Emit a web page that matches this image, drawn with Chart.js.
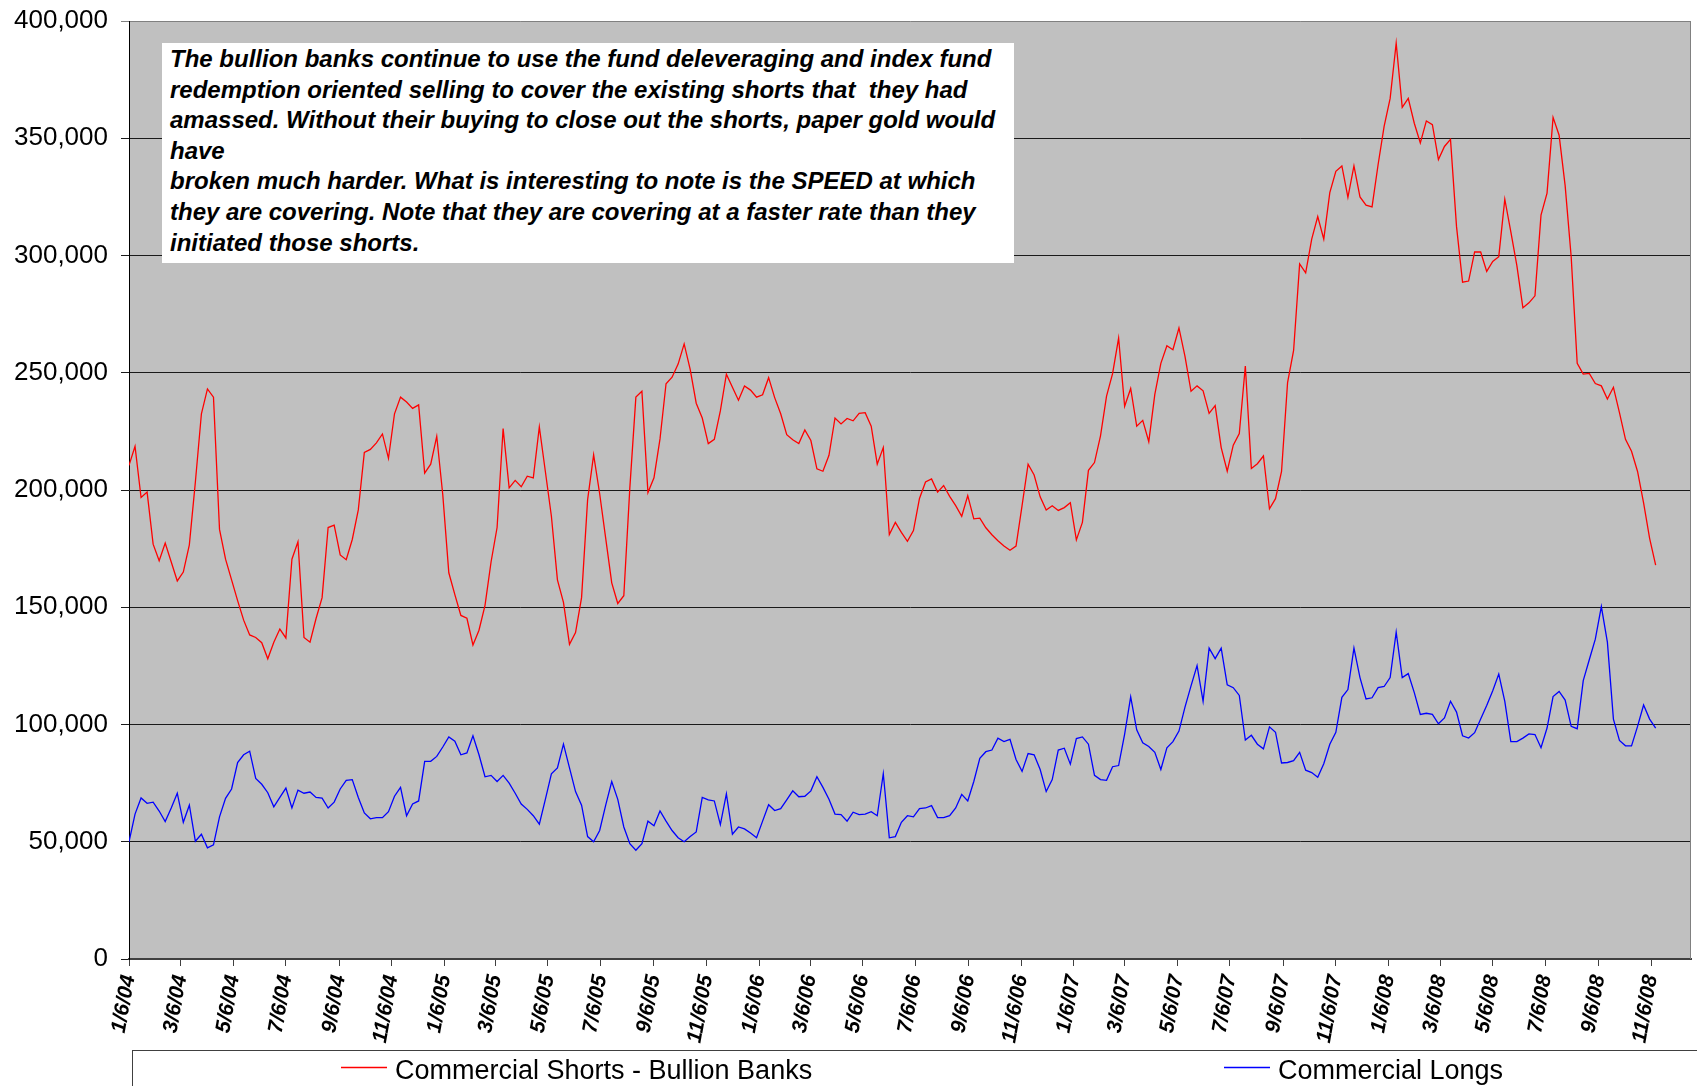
<!DOCTYPE html>
<html>
<head>
<meta charset="utf-8">
<script src="https://cdn.jsdelivr.net/npm/chart.js@4.4.1/dist/chart.umd.min.js"></script>
<style>
  html, body { margin: 0; padding: 0; background: #fff; }
  #wrap { position: relative; width: 1697px; height: 1086px; overflow: hidden; }
  #note {
    position: absolute; left: 162px; top: 43px; width: 852px; height: 220px;
    box-sizing: border-box; padding: 1px 0 0 8px; background: #fff; color: #000;
    font: italic bold 24px/30.6px "Liberation Sans", Arial, sans-serif;
    white-space: pre;
  }
</style>
</head>
<body>
<div id="wrap">
  <canvas id="myChart" width="1697" height="1086"></canvas>
  <div id="note">The bullion banks continue to use the fund deleveraging and index fund
redemption oriented selling to cover the existing shorts that  they had
amassed. Without their buying to close out the shorts, paper gold would
have
broken much harder. What is interesting to note is the SPEED at which
they are covering. Note that they are covering at a faster rate than they
initiated those shorts.</div>
</div>
<script>
// weekly COT report values, first report 1/6/04, one per week
const firstReport = '1/6/04';
const seriesNames = ['Commercial Shorts - Bullion Banks', 'Commercial Longs'];
const seriesColors = ['#ff0000', '#0000ff'];

const shorts = [
  210500, 218600, 196800, 199100, 176900, 169800, 177400, 169300, 161200, 165000,
  176600, 203400, 232500, 243100, 239600, 183200, 170500, 161700, 152800, 144500,
  138200, 137100, 134900, 128000, 135100, 140700, 136900, 170500, 177900, 137100,
  135100, 145200, 154100, 184000, 185000, 172300, 170300, 178900, 191500, 216000,
  217300, 220100, 223900, 213500, 232500, 239600, 237500, 234800, 236300, 207200,
  211000, 222900, 198000, 164700, 155400, 146500, 145300, 133900, 140200, 150800,
  169300, 184000, 226200, 200900, 204100, 201400, 205900, 205200, 226900, 207900,
  188800, 161700, 152100, 134200, 139200, 154100, 195800, 215000, 198400, 179400,
  160400, 151600, 154900, 200900, 239600, 242100, 198900, 205200, 221800, 245300,
  248100, 253700, 262300, 251400, 237000, 230700, 219800, 221600, 233700, 249400,
  243800, 238300, 244400, 242600, 239600, 240600, 247900, 239400, 232500, 223600,
  221400, 219800, 225600, 221100, 209000, 208000, 214800, 230700, 228200, 230500,
  229500, 232700, 233000, 227200, 211000, 218100, 181000, 186200, 181900, 178100,
  182700, 196400, 203400, 204700, 199100, 201900, 197300, 193300, 188800, 197600,
  187700, 188000, 183900, 180900, 178400, 176100, 174300, 176100, 193300, 211000,
  206400, 197100, 191500, 193300, 191300, 192500, 194600, 178700, 186200, 208400,
  211700, 223100, 240000, 249600, 264800, 235700, 243300, 227200, 229700, 220600,
  240800, 254000, 261500, 259800, 269100, 257000, 242100, 244400, 242300, 232700,
  236000, 218100, 208000, 219100, 224100, 252900, 209200, 211200, 214500, 192000,
  196300, 207900, 245800, 259500, 296400, 292600, 307000, 316600, 307000, 326800,
  335900, 338200, 324800, 338200, 325000, 321500, 320700, 338700, 355100, 367000,
  390500, 363200, 367000, 356400, 348000, 357400, 355800, 340900, 346500, 349500,
  312300, 288600, 289100, 301500, 301500, 293200, 297500, 299500, 324000, 310100,
  295700, 277700, 279800, 282800, 317200, 326600, 358900, 351300, 329800, 299500,
  254000, 249400, 249700, 245400, 244400, 238800, 243800, 233000, 221600, 216500,
  207900, 194500, 179400, 168000
];

const longs = [
  50000, 61800, 68700, 66400, 66900, 63100, 58600, 64400, 70700, 58300,
  65600, 50200, 53200, 47400, 48700, 60600, 68500, 72500, 83800, 87100,
  88600, 77000, 74500, 70900, 64900, 68900, 72900, 64400, 72000, 70700,
  71200, 68900, 68600, 64400, 66900, 72500, 76200, 76500, 68900, 62300,
  59800, 60300, 60300, 62800, 69400, 73200, 61100, 66100, 67400, 84300,
  84300, 86400, 90400, 94700, 92900, 87100, 87900, 95200, 87100, 77700,
  78300, 75700, 78300, 75000, 70700, 66100, 63800, 61100, 57500, 68100,
  79000, 81500, 91600, 81500, 71400, 65600, 52200, 50000, 54800, 65600,
  75700, 68100, 56300, 49200, 46400, 49200, 58800, 56800, 63100, 58800,
  54800, 51700, 50000, 52200, 54200, 68900, 67900, 67400, 57300, 70400,
  53200, 56300, 55500, 53700, 51700, 58800, 65800, 63300, 64100, 67900,
  71700, 69200, 69400, 71700, 77700, 73200, 68100, 61800, 61600, 58800,
  62600, 61600, 61800, 62800, 61100, 79000, 51700, 52200, 58300, 61100,
  60600, 64100, 64400, 65400, 60300, 60300, 61100, 64400, 70200, 67400,
  75700, 85600, 88400, 89100, 94200, 92700, 93700, 85100, 80000, 87600,
  87100, 80800, 71400, 76500, 89100, 89900, 83100, 94000, 94700, 91600,
  78300, 76500, 76200, 82000, 82500, 95900, 111800, 97700, 92200, 90600,
  88100, 80800, 90100, 92700, 97200, 107400, 116500, 125100, 109900, 132600,
  128100, 132600, 116900, 115700, 112400, 93400, 95400, 91600, 89600, 99000,
  96700, 83600, 83800, 84600, 88100, 80500, 79500, 77500, 83300, 91600,
  96700, 111600, 114900, 132600, 120000, 110900, 111400, 115700, 116200, 120000,
  139400, 120000, 121700, 113600, 104300, 104800, 104300, 100300, 102800, 109900,
  105300, 95200, 94200, 96500, 102300, 108100, 114400, 121500, 109900, 92700,
  92700, 94200, 96000, 95700, 90100, 98500, 111900, 114100, 110400, 99200,
  98200, 118700, 127600, 136400, 150300, 135100, 102300, 93200, 90900, 90900,
  99200, 108300, 102300, 98500
];

const tickLabels = [
  '1/6/04', '3/6/04', '5/6/04', '7/6/04', '9/6/04', '11/6/04',
  '1/6/05', '3/6/05', '5/6/05', '7/6/05', '9/6/05', '11/6/05',
  '1/6/06', '3/6/06', '5/6/06', '7/6/06', '9/6/06', '11/6/06',
  '1/6/07', '3/6/07', '5/6/07', '7/6/07', '9/6/07', '11/6/07',
  '1/6/08', '3/6/08', '5/6/08', '7/6/08', '9/6/08', '11/6/08'
];

const yMax = 400000;
const yStep = 50000;
const xMaxDays = 1812;

// days since the first report, for a m/d/yy string
function dayOf(s) {
  const p = s.split('/').map(Number);
  const t = Date.UTC(2000 + p[2], p[0] - 1, p[1]);
  const f = firstReport.split('/').map(Number);
  return Math.round((t - Date.UTC(2000 + f[2], f[0] - 1, f[1])) / 86400000);
}

const tickDays = tickLabels.map(dayOf);
const labelByDay = {};
tickLabels.forEach((l, i) => { labelByDay[tickDays[i]] = l; });

const shortsPts = shorts.map((v, i) => ({ x: i * 7, y: v }));
const longsPts = longs.map((v, i) => ({ x: i * 7, y: v }));

Chart.defaults.font.family = '"Liberation Sans", Arial, sans-serif';
Chart.defaults.color = '#000';

const plotBg = {
  id: 'plotBg',
  beforeDraw(chart) {
    const c = chart.ctx, a = chart.chartArea;
    c.save();
    c.fillStyle = '#fff';
    c.fillRect(0, 0, chart.width, chart.height);
    c.fillStyle = '#c0c0c0';
    c.fillRect(a.left, a.top, a.right - a.left, a.bottom - a.top);
    c.restore();
  },
  afterDraw(chart) {
    const c = chart.ctx, a = chart.chartArea;
    c.save();
    c.strokeStyle = '#808080';
    c.lineWidth = 1;
    c.beginPath();
    c.moveTo(a.right - 0.5, a.top);
    c.lineTo(a.right - 0.5, a.bottom);
    c.stroke();
    c.restore();
  }
};

// legend box along the bottom, like the original sheet
const bottomLegend = {
  id: 'bottomLegend',
  afterDraw(chart) {
    const c = chart.ctx;
    const itemX = [341, 1224];
    c.save();
    c.strokeStyle = '#404040';
    c.lineWidth = 1;
    c.strokeRect(132.5, 1050.5, 1700, 100);
    c.font = '27px "Liberation Sans", Arial, sans-serif';
    c.textBaseline = 'alphabetic';
    chart.data.datasets.forEach((ds, i) => {
      c.strokeStyle = ds.borderColor;
      c.lineWidth = 1.3;
      c.beginPath();
      c.moveTo(itemX[i], 1067.5);
      c.lineTo(itemX[i] + 46, 1067.5);
      c.stroke();
      c.fillStyle = '#000';
      c.fillText(ds.label, itemX[i] + 54, 1079);
    });
    c.restore();
  }
};

const canvas = document.getElementById('myChart');
const ctx = canvas.getContext('2d');

const myChart = new Chart(ctx, {
  type: 'line',
  data: {
    datasets: [
      { label: seriesNames[0], data: shortsPts, borderColor: seriesColors[0], borderWidth: 1.3,
        pointRadius: 0, tension: 0, fill: false },
      { label: seriesNames[1], data: longsPts, borderColor: seriesColors[1], borderWidth: 1.3,
        pointRadius: 0, tension: 0, fill: false }
    ]
  },
  options: {
    responsive: false,
    animation: false,
    layout: { padding: { top: 21, right: 6, bottom: 0, left: 0 } },
    plugins: { legend: { display: false }, tooltip: { enabled: false } },
    scales: {
      x: {
        type: 'linear',
        min: 0,
        max: xMaxDays,
        afterBuildTicks: (s) => { s.ticks = tickDays.map(v => ({ value: v })); },
        afterFit: (s) => { s.height = 127; },
        ticks: {
          autoSkip: false,
          minRotation: 80,
          maxRotation: 80,
          padding: 7,
          color: '#000',
          font: { size: 21, weight: 'bold', style: 'italic' },
          callback: (v) => labelByDay[v] || ''
        },
        grid: { drawOnChartArea: false, drawTicks: true, tickLength: 7, color: '#404040' },
        border: { color: '#404040', width: 2 }
      },
      y: {
        min: 0,
        max: yMax,
        afterFit: (s) => { s.width = 129; s.paddingTop = 0; s.paddingBottom = 0; },
        ticks: {
          stepSize: yStep,
          padding: 13,
          color: '#000',
          font: { size: 26 },
          callback: (v) => v.toLocaleString('en-US')
        },
        grid: {
          color: (c) => (c.tick && c.tick.value === yMax ? '#808080' : '#1a1a1a'),
          lineWidth: 1,
          tickLength: 8
        },
        border: { color: '#000', width: 1 }
      }
    }
  },
  plugins: [plotBg, bottomLegend]
});
</script>
</body>
</html>
